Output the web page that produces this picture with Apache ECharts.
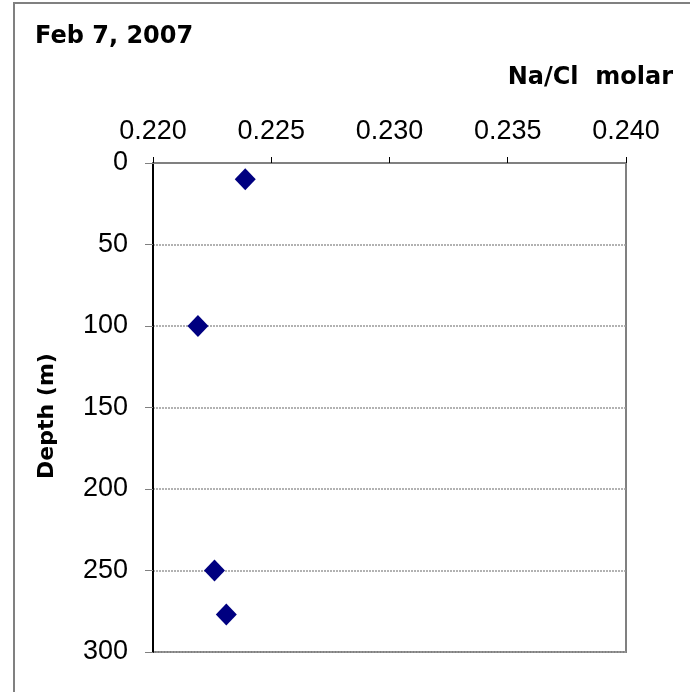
<!DOCTYPE html>
<html>
<head>
<meta charset="utf-8">
<title>Na/Cl vs depth</title>
<script src="https://cdn.jsdelivr.net/npm/echarts@6/dist/echarts.min.js"></script>
<style>
  html, body { margin: 0; padding: 0; background: #fff; }
  #chart { width: 690px; height: 692px; }
</style>
</head>
<body>
<div id="chart"></div>
<script>
// Na/Cl molar ratio vs depth, Feb 7, 2007
var naclRatio = [0.2239, 0.2219, 0.2226, 0.2231];
var depthM = [10, 100, 250, 277];
var xTicks = ['0.220', '0.225', '0.230', '0.235', '0.240'];

var chart = echarts.init(document.getElementById('chart'));
var font = 'Liberation Sans, Arial, sans-serif';
var boldFont = 'bold 24px DejaVu Sans, sans-serif';

var option = {
  animation: false,
  graphic: [
    { type: 'rect', shape: { x: 14, y: 3, width: 700, height: 720 },
      style: { fill: 'none', stroke: '#808080', lineWidth: 2 }, silent: true },
    { type: 'text', left: 35, top: 25,
      style: { text: 'Feb 7, 2007', font: boldFont, fill: '#000' } },
    { type: 'text', right: 17, top: 66,
      style: { text: 'Na/Cl  molar', font: boldFont, fill: '#000' } },
    { type: 'text', x: 47, y: 416, rotation: Math.PI / 2,
      style: { text: 'Depth (m)', font: 'bold 22px DejaVu Sans, sans-serif', fill: '#000',
               textAlign: 'center', textVerticalAlign: 'middle' } }
  ],
  grid: {
    left: 153, top: 163, width: 473, height: 489,
    show: true, borderColor: '#808080', borderWidth: 2
  },
  xAxis: {
    type: 'value', position: 'top',
    min: 0.22, max: 0.24, interval: 0.005,
    axisLine: { show: true, lineStyle: { color: '#808080', width: 2 } },
    axisTick: { show: true, inside: false, length: 6, lineStyle: { color: '#000' } },
    axisLabel: {
      margin: 18, fontSize: 27, fontFamily: font, color: '#000',
      formatter: function (v) {
        var i = Math.round((v - 0.22) / 0.005);
        return xTicks[i];
      }
    },
    splitLine: { show: false }
  },
  yAxis: {
    type: 'value', inverse: true,
    min: 0, max: 300, interval: 50,
    axisLine: { show: true, lineStyle: { color: '#000', width: 2 } },
    axisTick: { show: true, inside: false, length: 8, lineStyle: { color: '#808080' } },
    axisLabel: { margin: 25, fontSize: 27, fontFamily: font, color: '#000' },
    splitLine: { show: true, lineStyle: { color: '#999', type: [2, 1], width: 1.5 } }
  },
  series: [{
    type: 'scatter',
    symbol: 'diamond',
    symbolSize: [21, 22],
    itemStyle: { color: '#000080', opacity: 1 },
    data: naclRatio.map(function (v, i) { return [v, depthM[i]]; })
  }]
};
chart.setOption(option);
</script>
</body>
</html>
